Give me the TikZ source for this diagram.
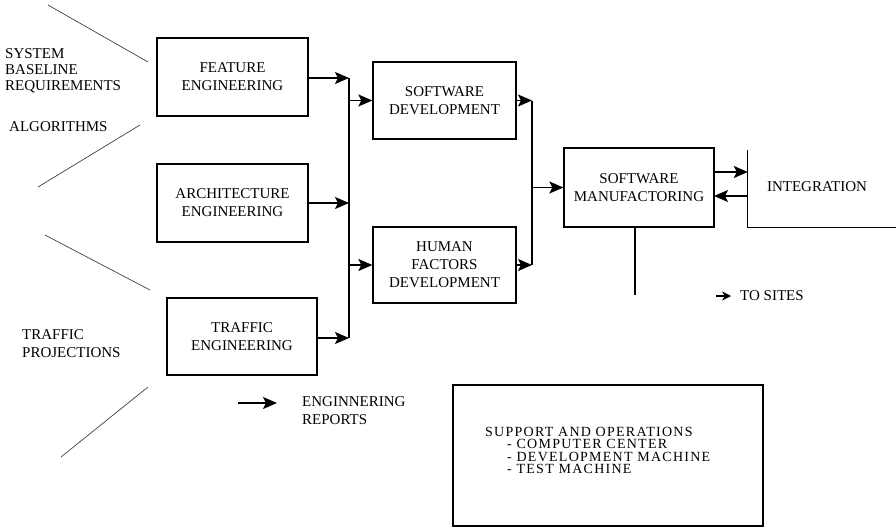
\documentclass[tikz,border=0pt]{standalone}
\usepackage{fontspec}
\setmainfont{Liberation Serif}
\usetikzlibrary{arrows.meta}
\begin{document}
\begin{tikzpicture}[x=1pt,y=-1pt,
  every node/.style={font=\fontsize{15}{18}\selectfont, inner sep=0pt},
  blk/.style={draw, line width=1.3pt, align=center},
  arr/.style={line width=1.6pt, -{Stealth[length=14pt,width=12pt,inset=3pt]}},
  bus/.style={line width=1.5pt},
  ray/.style={line width=0.7pt, black!75},
  lbl/.style={align=left, anchor=west}]
\useasboundingbox (0,0) rectangle (896,527);

% engineering blocks
\node[blk, minimum width=151, minimum height=78] (feat) at (232.5,77) {FEATURE\\ENGINEERING};
\node[blk, minimum width=151, minimum height=78] (arch) at (232.5,203) {ARCHITECTURE\\ENGINEERING};
\node[blk, minimum width=150, minimum height=77] (traf) at (242,336.5) {TRAFFIC\\ENGINEERING};

% development blocks
\node[blk, minimum width=143, minimum height=77] (swd) at (444.5,100.5) {SOFTWARE\\DEVELOPMENT};
\node[blk, minimum width=143, minimum height=76] (hfd) at (444.5,265) {HUMAN\\FACTORS\\DEVELOPMENT};

% manufacturing and integration
\node[blk, minimum width=150, minimum height=79] (swm) at (639,187.5) {SOFTWARE\\MANUFACTORING};
\node[minimum width=148, minimum height=77] (intg) at (822,188.5) {};
\node (intgt) at (817,187) {INTEGRATION};
\draw[line width=1.3pt] (intg.north west) -- (intg.south west) -- (intg.south east);

% support box
\node[draw, line width=1.3pt, minimum width=310, minimum height=141] (sup) at (608,455.5) {};
\node[anchor=north west, align=left,
      font=\fontsize{14}{12.3}\selectfont\addfontfeature{LetterSpace=9}] (suptext) at (485,427)
  {SUPPORT AND OPERATIONS\\
   \hspace*{22pt}- COMPUTER CENTER\\
   \hspace*{22pt}- DEVELOPMENT MACHINE\\
   \hspace*{22pt}- TEST MACHINE};

% input labels
\node[lbl, font=\fontsize{15}{16}\selectfont] (sysreq) at (5,71) {SYSTEM\\BASELINE\\REQUIREMENTS};
\node[lbl] (algo) at (9,127) {ALGORITHMS};
\node[lbl] (trproj) at (22,344) {TRAFFIC\\PROJECTIONS};

% input rays
\coordinate (r1a) at (48,5);    \coordinate (r1b) at (148,62);
\coordinate (r2a) at (140,125); \coordinate (r2b) at (38,187);
\coordinate (r3a) at (45,235);  \coordinate (r3b) at (150,290);
\coordinate (r4a) at (148,387); \coordinate (r4b) at (61,457);
\draw[ray] (r1a) -- (r1b);
\draw[ray] (r2a) -- (r2b);
\draw[ray] (r3a) -- (r3b);
\draw[ray] (r4a) -- (r4b);

% first collecting bus
\coordinate (b1t) at (349,78);
\coordinate (b1b) at (349,338);
\draw[bus] (b1t) -- (b1b);
\draw[arr] (feat.east |- b1t) -- (b1t);
\draw[arr] (arch.east) -- (arch.east -| b1t);
\draw[arr] (traf.east |- b1b) -- (b1b);
\draw[arr] (swd.west -| b1t) -- (swd.west);
\draw[arr] (hfd.west -| b1t) -- (hfd.west);

% second collecting bus
\coordinate (b2t) at (532,100.5);
\coordinate (b2b) at (532,265);
\draw[bus] (b2t) -- (b2b);
\draw[arr] (swd.east) -- (b2t);
\draw[arr] (hfd.east) -- (b2b);
\draw[arr] (swm.west -| b2t) -- (swm.west);

% manufacturing <-> integration
\coordinate (mi1) at (714,172);
\coordinate (mi2) at (714,196);
\draw[arr] (mi1) -- (mi1 -| intg.west);
\draw[arr] (mi2 -| intg.west) -- (mi2);

% delivery to sites
\coordinate (drop) at (635,295);
\draw[bus, line width=1.2pt] (swm.south -| drop) -- (drop);
\node[lbl] (sites) at (740,296) {TO SITES};
\coordinate (sitesa) at (716,296);
\draw[line width=1.2pt, -{Stealth[length=9pt,width=9pt]}] (sitesa) -- ([xshift=-9pt]sites.west);

% legend
\coordinate (lega) at (238,403);
\node[lbl] (legt) at (302,411) {ENGINNERING\\REPORTS};
\draw[arr] (lega) -- ([xshift=-25pt]legt.west |- lega);
\end{tikzpicture}
\end{document}
